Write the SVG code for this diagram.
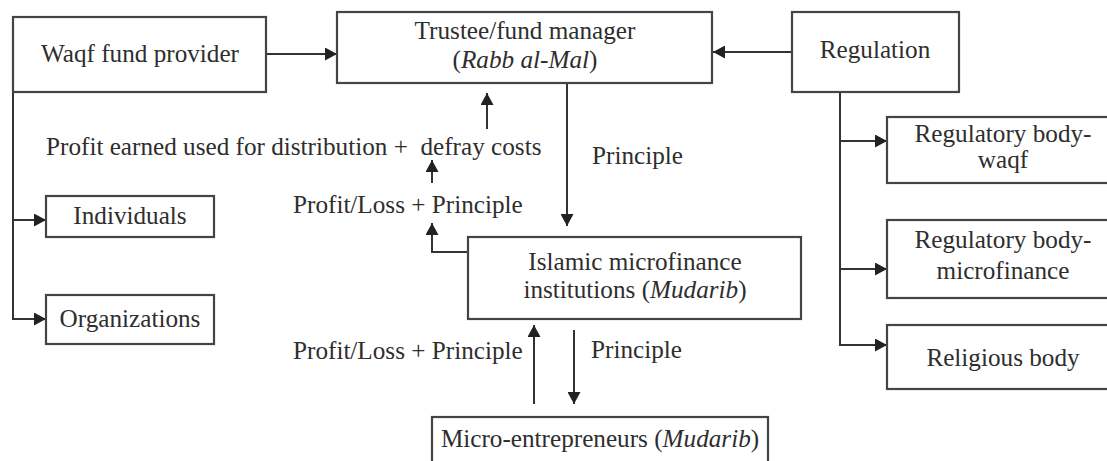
<svg xmlns="http://www.w3.org/2000/svg" width="1107" height="461" viewBox="0 0 1107 461">
  <style>
    .box { fill: #ffffff; stroke: #444444; stroke-width: 2.2; }
    .lbl { font-family: "Liberation Serif", "Times New Roman", serif; font-size: 25.2px; fill: #2e2e2e; }
    .mid { text-anchor: middle; }
    .it { font-style: italic; }
    .wire { fill: none; stroke: #333333; stroke-width: 2; }
  </style>
  <defs>
    <marker id="head" viewBox="0 0 12 13" refX="12" refY="6.5" markerWidth="12" markerHeight="13" markerUnits="userSpaceOnUse" orient="auto">
      <path d="M0,0 L12,6.5 L0,13 z" fill="#222222"/>
    </marker>
  </defs>
  <rect width="1107" height="461" fill="#ffffff"/>

  <!-- connectors -->
  <g id="connectors">
    <line class="wire" x1="266" y1="54" x2="337" y2="54" marker-end="url(#head)"/>
    <line class="wire" x1="792" y1="52" x2="713" y2="52" marker-end="url(#head)"/>
    <line class="wire" x1="13" y1="92" x2="13" y2="320"/>
    <line class="wire" x1="12" y1="220" x2="46" y2="220" marker-end="url(#head)"/>
    <line class="wire" x1="12" y1="319" x2="46" y2="319" marker-end="url(#head)"/>
    <line class="wire" x1="840" y1="92" x2="840" y2="346"/>
    <line class="wire" x1="839" y1="141" x2="887" y2="141" marker-end="url(#head)"/>
    <line class="wire" x1="839" y1="269" x2="887" y2="269" marker-end="url(#head)"/>
    <line class="wire" x1="839" y1="345" x2="887" y2="345" marker-end="url(#head)"/>
    <line class="wire" x1="567" y1="83" x2="567" y2="226" marker-end="url(#head)"/>
    <line class="wire" x1="487" y1="129" x2="487" y2="93" marker-end="url(#head)"/>
    <line class="wire" x1="432" y1="183" x2="432" y2="160" marker-end="url(#head)"/>
    <polyline class="wire" points="468,252 432,252 432,223" marker-end="url(#head)"/>
    <line class="wire" x1="534" y1="404" x2="534" y2="325" marker-end="url(#head)"/>
    <line class="wire" x1="574" y1="330" x2="574" y2="404" marker-end="url(#head)"/>
  </g>

  <!-- flow labels -->
  <g id="flow-labels">
    <text class="lbl" x="46" y="155" xml:space="preserve">Profit earned used for distribution +  defray costs</text>
    <text class="lbl" x="592" y="164">Principle</text>
    <text class="lbl" x="293" y="213">Profit/Loss + Principle</text>
    <text class="lbl" x="293" y="359">Profit/Loss + Principle</text>
    <text class="lbl" x="591" y="358">Principle</text>
  </g>

  <g id="waqf-provider">
    <rect class="box" x="13" y="17" width="253" height="75"/>
    <text class="lbl mid" x="140" y="62">Waqf fund provider</text>
  </g>

  <g id="trustee">
    <rect class="box" x="337" y="12" width="375" height="71"/>
    <text class="lbl mid" x="525" y="39">Trustee/fund manager</text>
    <text class="lbl mid" x="525" y="68">(<tspan class="it">Rabb al-Mal</tspan>)</text>
  </g>

  <g id="regulation">
    <rect class="box" x="792" y="12" width="167" height="80"/>
    <text class="lbl mid" x="875" y="58">Regulation</text>
  </g>

  <g id="individuals">
    <rect class="box" x="46" y="196" width="168" height="41"/>
    <text class="lbl mid" x="130" y="224">Individuals</text>
  </g>

  <g id="organizations">
    <rect class="box" x="46" y="295" width="168" height="49"/>
    <text class="lbl mid" x="130" y="327">Organizations</text>
  </g>

  <g id="regulatory-waqf">
    <rect class="box" x="887" y="117" width="235" height="66"/>
    <text class="lbl mid" x="1003" y="142">Regulatory body-</text>
    <text class="lbl mid" x="1003" y="168">waqf</text>
  </g>

  <g id="regulatory-microfinance">
    <rect class="box" x="887" y="220" width="235" height="78"/>
    <text class="lbl mid" x="1003" y="248">Regulatory body-</text>
    <text class="lbl mid" x="1003" y="279">microfinance</text>
  </g>

  <g id="religious-body">
    <rect class="box" x="887" y="325" width="235" height="64"/>
    <text class="lbl mid" x="1003" y="366">Religious body</text>
  </g>

  <g id="imfi">
    <rect class="box" x="468" y="237" width="333" height="82"/>
    <text class="lbl mid" x="635" y="270">Islamic microfinance</text>
    <text class="lbl mid" x="635" y="298">institutions (<tspan class="it">Mudarib</tspan>)</text>
  </g>

  <g id="micro-entrepreneurs">
    <rect class="box" x="432" y="417" width="336" height="60"/>
    <text class="lbl mid" x="600" y="447">Micro-entrepreneurs (<tspan class="it">Mudarib</tspan>)</text>
  </g>
</svg>
